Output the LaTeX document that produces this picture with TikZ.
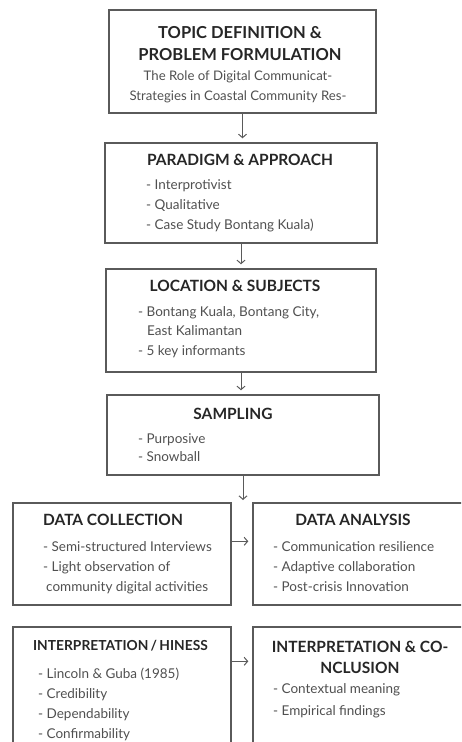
\documentclass[tikz,border=0pt]{standalone}
\usepackage{fontspec}
\setmainfont{Lato}
\usetikzlibrary{arrows.meta}
\definecolor{boxgray}{HTML}{5A5A5A}
\definecolor{titlegray}{HTML}{262626}
\definecolor{itemgray}{HTML}{505050}
\tikzset{
  stage/.style={draw=boxgray,line width=1.4pt,inner sep=0pt},
  stagetitle/.style={inner sep=0pt,text=titlegray,align=center,
    font=\fontsize{15.5}{21}\selectfont\bfseries},
  stageitems/.style={inner sep=0pt,text=itemgray,anchor=north west,align=left,
    font=\fontsize{13.5}{20}\selectfont},
  flow/.style={->,draw=boxgray,line width=1pt,shorten >=4pt}
}
\begin{document}
\begin{tikzpicture}[x=1pt,y=-1pt,>={Straight Barb[length=3.5pt,width=8pt]}]
\useasboundingbox (0,0) rectangle (461,742);
\clip (0,0) rectangle (461,742);
% stages
\node[stage,minimum width=267pt,minimum height=103pt] (topic) at (242.5,61.5) {};
\node[stage,minimum width=272pt,minimum height=100pt] (paradigm) at (241,193) {};
\node[stage,minimum width=270pt,minimum height=103pt] (location) at (241,320.5) {};
\node[stage,minimum width=272pt,minimum height=80pt] (sampling) at (243,435) {};
\node[stage,minimum width=218pt,minimum height=102pt] (collect) at (122,554) {};
\node[stage,minimum width=219pt,minimum height=102pt] (analysis) at (362.5,554) {};
\node[stage,minimum width=218pt,minimum height=138pt] (trust) at (122,696) {};
\node[stage,minimum width=219pt,minimum height=138pt] (conclude) at (362.5,696) {};
% texts
\node[stagetitle,font=\fontsize{16.5}{22}\selectfont\bfseries] (topictitle) at (240,44)
  {TOPIC DEFINITION \&\\PROBLEM FORMULATION};
\node[stageitems,anchor=center,align=center,font=\fontsize{13.2}{20}\selectfont] (topicbody) at (238,87)
  {The Role of Digital Communicat-\\Strategies in Coastal Community Res-};
\node[stagetitle,anchor=mid] (paradigmtitle) at (240,163) {PARADIGM \& APPROACH};
\node[stageitems] (paradigmitems) at (146,179) {- Interprotivist\\- Qualitative\\- Case Study Bontang Kuala)};
\node[stagetitle,anchor=mid] (locationtitle) at (235,289) {LOCATION \& SUBJECTS};
\node[stageitems,font=\fontsize{13.5}{19.5}\selectfont] (locationitems) at (138,306)
  {- Bontang Kuala, Bontang City,\\\hspace*{9pt}East Kalimantan\\- 5 key informants};
\node[stagetitle,anchor=mid] (samplingtitle) at (233,417) {SAMPLING};
\node[stageitems,font=\fontsize{13.5}{18}\selectfont] (samplingitems) at (138,433) {- Purposive\\- Snowball};
\node[stagetitle,anchor=mid] (collecttitle) at (113,523) {DATA COLLECTION};
\node[stageitems] (collectitems) at (43,541)
  {- Semi-structured Interviews\\- Light observation of\\\hspace*{3pt}community digital activities};
\node[stagetitle,anchor=mid] (analysistitle) at (353,523) {DATA ANALYSIS};
\node[stageitems] (analysisitems) at (273,541)
  {- Communication resilience\\- Adaptive collaboration\\- Post-crisis Innovation};
\node[stagetitle,anchor=mid,font=\fontsize{13.8}{21}\selectfont\bfseries] (trusttitle) at (120.5,648)
  {INTERPRETATION\,/\,HINESS};
\node[stageitems] (trustitems) at (38,668)
  {- Lincoln \& Guba (1985)\\- Credibility\\- Dependability\\- Confirmability};
\node[stagetitle] (concludetitle) at (360,657) {INTERPRETATION \& CO-\\NCLUSION};
\node[stageitems,font=\fontsize{13.5}{22}\selectfont] (concludeitems) at (273,683)
  {- Contextual meaning\\- Empirical findings};
% connectors
\coordinate (split) at (243,500);
\draw[flow] (topic.south) -- (topic.south |- paradigm.north);
\draw[flow] (paradigm.south) -- (paradigm.south |- location.north);
\draw[flow] (location.south) -- (location.south |- sampling.north);
\draw[flow,shorten >=0pt] (sampling.south) -- (split);
\draw[flow] ([yshift=-39pt]collect.north east) -- ([yshift=-39pt]analysis.north west);
\draw[flow] ([yshift=-35pt]trust.north east) -- ([yshift=-35pt]conclude.north west);
\end{tikzpicture}
\end{document}
